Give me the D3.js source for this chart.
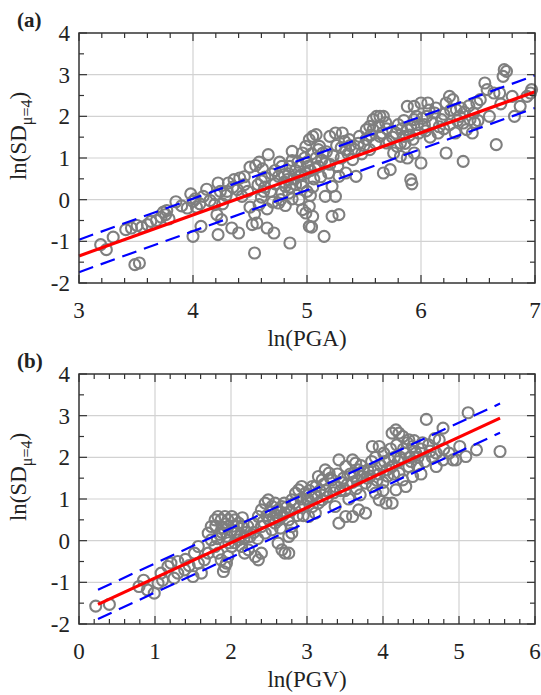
<!DOCTYPE html>
<html>
<head>
<meta charset="utf-8">
<script src="https://cdn.jsdelivr.net/npm/d3@7"></script>
<style>
  body { margin: 0; background: #fff; }
  svg text { font-family: "Liberation Serif", "DejaVu Serif", serif; fill: #222; }
</style>
</head>
<body>
<script>
// panel (a): ln(PGA) vs ln(SD)
var pointsA = [
  [3.19,-1.08],[3.24,-1.2],[3.49,-1.56],[3.53,-1.52],
  [3.41,-0.72],[3.46,-0.68],[3.51,-0.62],[3.55,-0.66],
  [3.63,-0.52],[3.68,-0.5],[3.72,-0.42],[3.76,-0.36],[3.79,-0.46],[3.77,-0.26],[3.74,-0.3],
  [3.98,0.14],[4.0,-0.04],[4.02,0.02],[4.06,-0.1],[4.09,0.08],[4.03,-0.18],
  [4.0,-0.88],[4.07,-0.64],
  [4.15,-0.02],[4.2,0.12],[4.22,0.4],[4.19,-0.12],[4.26,-0.1],[4.29,0.1],[4.24,0.2],
  [4.21,-0.36],[4.25,-0.48],[4.22,-0.84],[4.34,-0.68],[4.4,-0.8],
  [4.31,0.4],[4.36,0.48],[4.41,0.52],[4.45,0.36],[4.39,0.24],[4.35,0.3],[4.43,0.08],
  [4.5,0.78],[4.55,0.82],[4.58,0.9],[4.61,0.74],
  [4.5,-0.18],[4.54,-0.34],[4.52,-0.6],[4.56,-0.56],[4.58,-0.12],[4.6,0.06],[4.62,0.2],
  [4.54,-1.28],
  [4.66,1.08],[4.63,0.54],[4.69,0.62],[4.72,0.38],[4.63,0.3],[4.57,0.36],
  [4.65,-0.68],[4.71,-0.8],[4.65,-0.22],[4.7,-0.06],
  [4.75,0.56],[4.78,0.8],[4.81,0.32],[4.84,0.62],[4.87,0.94],[4.87,1.16],[4.84,0.16],[4.78,0.16],
  [4.75,-0.08],[4.81,-0.14],[4.87,0.02],[4.8,0.42],[4.83,0.48],[4.9,0.7],[4.9,0.36],[4.93,0.56],
  [4.85,-1.04],
  [4.94,0.8],[4.96,1.12],[4.99,1.28],[5.02,1.44],[5.05,1.52],[5.08,1.56],[4.99,0.64],[4.96,0.32],
  [4.93,0.0],[4.96,-0.24],[4.99,-0.32],[5.02,-0.16],[5.05,-0.4],[5.02,-0.64],[5.04,-0.66],[5.15,-0.88],
  [5.0,0.9],[5.03,0.7],[5.06,0.5],[5.0,0.2],[5.03,0.1],[5.08,1.0],[5.1,0.8],
  [5.11,1.28],[5.14,1.12],[5.16,0.88],[5.19,0.64],[5.22,0.32],[5.25,0.08],[5.16,0.08],[5.22,-0.4],[5.28,-0.36],
  [5.2,1.52],[5.25,1.6],[5.31,1.6],[5.37,1.44],[5.34,1.2],[5.4,0.96],[5.43,0.56],[5.34,0.64],
  [5.28,0.56],[5.3,1.0],[5.26,1.3],[5.36,1.1],
  [5.46,1.52],[5.52,1.68],[5.55,1.76],[5.58,1.92],[5.61,2.0],[5.64,2.0],[5.67,2.0],[5.58,1.68],
  [5.64,1.52],[5.7,1.36],[5.67,0.64],[5.73,0.72],[5.76,1.12],[5.79,1.28],[5.82,1.36],[5.85,1.52],
  [5.88,1.68],[5.91,1.76],[5.94,1.92],[5.88,2.24],[5.94,2.24],[6.0,2.32],[6.06,2.32],[6.12,2.08],
  [6.18,1.92],[5.94,1.12],[6.0,0.88],[5.91,0.48],[5.92,0.38],[5.88,1.0],[5.82,1.04],[5.5,1.3],
  [5.55,1.2],[5.7,1.7],[5.75,1.5],[5.8,1.8],[5.85,1.9],[5.98,1.6],[6.03,1.8],[6.08,1.5],[6.05,2.0],[5.96,2.0],
  [6.22,1.12],[6.37,0.92],
  [6.22,2.32],[6.25,2.48],[6.28,2.4],[6.31,2.16],[6.34,2.0],[6.37,1.84],[6.4,1.68],[6.43,1.92],
  [6.46,2.08],[6.49,2.32],[6.52,2.4],[6.56,2.8],[6.58,2.64],[6.64,2.56],[6.66,1.32],[6.69,2.56],
  [6.72,2.96],[6.73,3.12],[6.75,3.08],[6.8,2.48],[6.82,2.0],[6.87,2.24],[6.93,2.48],[6.97,2.64],
  [6.96,2.56],[6.25,1.8],[6.3,1.6],[6.45,1.6],[6.5,1.9],[6.15,1.6],[6.2,1.7],[6.35,2.2],[6.6,2.0],[6.7,2.3],
  [4.72,0.7],[4.76,0.9],[4.8,0.6],[4.85,0.8],[4.88,0.5],[4.92,0.9],[4.95,0.6],[4.98,1.0],
  [5.01,0.8],[5.04,1.1],[5.07,0.75],[5.1,1.2],[5.13,0.95],[5.17,1.15],[5.2,0.85],[5.23,1.05],
  [5.27,0.8],[5.3,1.25],[5.33,1.4],[5.38,1.3],[5.42,1.2],[5.45,1.35],[5.48,1.1],[5.52,1.45],
  [5.56,1.55],[5.6,1.35],[5.63,1.75],[5.66,1.6],[5.69,1.85],[5.72,1.4],[5.78,1.6],[5.83,1.7],
  [5.86,1.35],[5.9,1.55],[5.93,1.45],[5.97,1.8],[6.01,1.95],[6.04,1.65],[6.07,2.15],[6.1,1.85],
  [6.13,2.2],[6.16,1.75],[6.2,2.05],[6.26,2.15],[6.32,1.9],[6.38,2.1],[6.42,2.25],[6.47,1.85],
  [4.6,0.45],[4.68,0.2],[4.77,0.0],[4.85,0.3],[4.95,0.4],[5.05,0.3],[5.12,0.55],[4.45,0.55],
  [4.48,0.2],[4.3,0.2],[4.12,0.25],[3.9,-0.15],[3.85,-0.05],[3.95,-0.2],[3.3,-0.9],[3.6,-0.6]
];
// fitted line (x ends, y ends) and +/- band
var fitAx = [3, 7], fitAy = [-1.35, 2.59], bandA = 0.39;

// panel (b): ln(PGV) vs ln(SD)
var pointsB = [
  [0.22,-1.57],[0.4,-1.53],
  [0.79,-1.1],[0.9,-1.18],[0.99,-1.26],[1.04,-1.02],[1.08,-0.78],[1.17,-0.62],[1.21,-0.54],[1.3,-0.78],
  [1.39,-0.7],[1.5,-0.86],[1.57,-0.54],[1.61,-0.78],[1.65,-0.46],[1.52,-0.3],[1.57,-0.14],[1.25,-0.9],
  [1.45,-0.6],[1.7,-0.3],
  [1.70,0.18],[1.74,0.34],[1.79,0.5],[1.83,0.58],[1.87,0.5],[1.92,0.58],[1.96,0.5],[2.01,0.58],
  [2.05,0.5],[2.1,0.42],[2.14,0.34],[1.74,0.02],[1.79,-0.14],[1.83,-0.3],[1.87,-0.46],[1.92,-0.62],
  [1.9,-0.74],[1.94,-0.54],[1.96,-0.38],[2.01,-0.14],[2.05,0.18],[2.1,0.02],[2.14,-0.14],[2.18,-0.3],
  [2.23,-0.22],[2.32,-0.38],[2.36,-0.46],[2.4,-0.3],
  [1.9,0.3],[1.95,0.1],[2.0,0.25],[1.85,0.15],[2.05,-0.05],[2.2,0.2],[2.25,0.1],[2.15,0.55],
  [2.36,0.58],[2.4,0.74],[2.45,0.9],[2.49,0.98],[2.54,0.82],[2.58,0.9],[2.62,0.74],[2.67,0.82],
  [2.71,0.66],[2.76,0.5],[2.8,0.34],[2.8,0.18],[2.76,0.1],[2.62,-0.06],[2.67,-0.22],[2.71,-0.3],
  [2.76,-0.3],[2.54,0.26],[2.58,0.42],[2.4,0.34],[2.45,0.18],
  [2.5,0.5],[2.6,0.6],[2.65,0.3],[2.3,0.4],[2.7,0.9],
  [2.8,0.98],[2.85,1.14],[2.89,1.22],[2.93,1.3],[2.98,1.14],[3.02,0.98],[3.07,0.82],[3.11,0.66],
  [3.02,0.58],[3.15,1.54],[3.2,1.46],[3.24,1.7],[3.29,1.62],[3.33,1.46],[3.37,1.3],[3.2,0.98],[3.07,1.3],
  [2.9,0.8],[3.0,1.0],[3.1,1.1],[3.15,0.9],[3.25,1.2],[2.95,0.6],
  [3.37,0.82],[3.42,0.42],[3.51,0.58],[3.6,0.58],[3.68,0.74],[3.77,0.66],[3.42,1.94],[3.51,1.78],
  [3.6,1.94],[3.64,1.86],[3.68,1.7],[3.73,1.54],[3.77,1.38],[3.86,1.3],[3.9,1.14],[3.95,0.98],
  [4.04,0.9],[4.12,0.9],[3.86,2.26],[3.95,2.26],[4.01,2.1],[4.08,1.94],[4.12,1.78],[4.21,1.62],
  [4.26,1.46],[4.17,1.22],[4.3,1.3],[4.12,2.58],[4.17,2.66],[4.21,2.58],[4.26,2.5],[4.34,2.42],
  [4.39,2.26],[4.43,2.1],[4.3,2.1],[4.34,1.78],[4.39,1.54],
  [3.5,1.2],[3.55,1.0],[3.6,1.4],[3.7,1.1],[3.8,1.7],[3.85,1.9],[3.45,1.4],[3.65,1.25],[3.95,1.6],
  [4.0,1.4],[4.05,1.7],[4.15,2.0],[4.2,1.9],[4.35,2.0],[3.9,2.0],[4.0,1.2],
  [4.57,2.91],[4.79,2.7],[4.74,2.42],[4.7,2.1],[4.7,1.78],[4.79,1.94],[4.87,2.1],[4.92,1.94],
  [4.96,1.94],[5.01,2.26],[5.09,2.02],[5.12,3.07],[5.23,2.18],[5.54,2.14],
  [4.5,2.2],[4.55,1.9],[4.6,2.3],[4.65,2.0],[4.45,1.8],[4.5,1.6],[4.8,2.2],
  [2.3,0.2],[2.35,0.05],[2.42,0.45],[2.47,0.6],[2.52,0.7],[2.56,0.55],[2.63,0.5],[2.68,0.6],
  [2.73,0.8],[2.78,0.7],[2.83,0.9],[2.87,0.6],[2.92,1.0],[2.97,0.85],[3.03,1.2],[3.06,1.05],
  [3.12,1.3],[3.17,1.2],[3.22,1.35],[3.27,1.05],[3.31,1.5],[3.35,1.15],[3.4,1.6],[3.44,1.2],
  [3.48,1.5],[3.53,1.35],[3.57,1.6],[3.62,1.55],[3.66,1.45],[3.71,1.8],[3.75,1.65],[3.79,1.5],
  [3.83,1.55],[3.88,1.7],[3.92,1.45],[3.97,1.8],[4.02,1.9],[4.06,1.55],[4.1,2.2],[4.14,1.6],
  [4.18,2.3],[4.23,2.0],[4.27,2.2],[4.32,2.35],[4.37,1.9],[4.41,2.4],[4.46,2.0],[4.52,2.35],
  [4.62,2.15],[4.68,2.45],[1.8,0.35],[1.82,0.05],[1.88,0.2],[1.93,0.4],[1.97,-0.05],[2.03,0.35],
  [2.08,0.2],[2.12,0.1],[2.17,0.05],[2.22,0.35],[1.3,-0.5],[1.4,-0.45],[1.1,-0.95],[0.85,-0.95]
];
var fitBx = [0.25, 5.54], fitBy = [-1.53, 2.94], bandB = 0.35;

var yTicks = [-2, -1, 0, 1, 2, 3, 4];
var xTicksA = [3, 4, 5, 6, 7];
var xTicksB = [0, 1, 2, 3, 4, 5, 6];

var W = 541, H = 695;
var svg = d3.select("body").append("svg")
    .attr("width", W)
    .attr("height", H);

function panel(cfg) {
  var width = 456, height = 250;
  var g = svg.append("g")
      .attr("transform", "translate(" + cfg.left + "," + cfg.top + ")");

  var x = d3.scaleLinear().domain(cfg.xDomain).range([0, width]),
      y = d3.scaleLinear().domain([-2, 4]).range([height, 0]);

  // grid
  g.append("g").selectAll("line")
      .data(cfg.xTicks.slice(1, -1))
    .enter().append("line")
      .attr("x1", x).attr("x2", x)
      .attr("y1", 0).attr("y2", height)
      .attr("stroke", "#d2d2d2").attr("stroke-width", 1.2);
  g.append("g").selectAll("line")
      .data(yTicks.slice(1, -1))
    .enter().append("line")
      .attr("y1", y).attr("y2", y)
      .attr("x1", 0).attr("x2", width)
      .attr("stroke", "#d2d2d2").attr("stroke-width", 1.2);

  // points
  g.append("g").selectAll("circle")
      .data(cfg.points)
    .enter().append("circle")
      .attr("cx", function(d) { return x(d[0]); })
      .attr("cy", function(d) { return y(d[1]); })
      .attr("r", 5.5)
      .attr("fill", "none")
      .attr("stroke", "#7f7f7f")
      .attr("stroke-width", 2.1);

  // fit + band
  var line = d3.line()
      .x(function(d) { return x(d[0]); })
      .y(function(d) { return y(d[1]); });
  [cfg.band, -cfg.band].forEach(function(off) {
    g.append("path")
        .datum(cfg.fitX.map(function(v, i) { return [v, cfg.fitY[i] + off]; }))
        .attr("d", line)
        .attr("fill", "none")
        .attr("stroke", "#0000ff")
        .attr("stroke-width", 2.2)
        .attr("stroke-dasharray", "15,8");
  });
  g.append("path")
      .datum(cfg.fitX.map(function(v, i) { return [v, cfg.fitY[i]]; }))
      .attr("d", line)
      .attr("fill", "none")
      .attr("stroke", "#ff0000")
      .attr("stroke-width", 3.2);

  // inward ticks on all four sides
  var xMinor = d3.range(cfg.xDomain[0], cfg.xDomain[1] + 1e-9, 0.2),
      yMinor = d3.range(-2, 4 + 1e-9, 0.5);
  function tickLen(v, step) { return Math.abs(v / step - Math.round(v / step)) < 1e-6 ? 8 : 5; }
  var tk = g.append("g").attr("stroke", "#333").attr("stroke-width", 1.2);
  xMinor.forEach(function(v) {
    var L = tickLen(v, 1);
    tk.append("line").attr("x1", x(v)).attr("x2", x(v)).attr("y1", height).attr("y2", height - L);
    tk.append("line").attr("x1", x(v)).attr("x2", x(v)).attr("y1", 0).attr("y2", L);
  });
  yMinor.forEach(function(v) {
    var L = tickLen(v, 1);
    tk.append("line").attr("y1", y(v)).attr("y2", y(v)).attr("x1", 0).attr("x2", L);
    tk.append("line").attr("y1", y(v)).attr("y2", y(v)).attr("x1", width).attr("x2", width - L);
  });

  g.append("rect")
      .attr("width", width).attr("height", height)
      .attr("fill", "none")
      .attr("stroke", "#333")
      .attr("stroke-width", 1.5);

  // tick labels
  g.append("g").selectAll("text")
      .data(cfg.xTicks)
    .enter().append("text")
      .attr("x", x).attr("y", height + 35)
      .attr("text-anchor", "middle")
      .style("font-size", "23px")
      .text(String);
  g.append("g").selectAll("text")
      .data(yTicks)
    .enter().append("text")
      .attr("x", -9).attr("y", y)
      .attr("dy", ".35em")
      .attr("text-anchor", "end")
      .style("font-size", "23px")
      .text(String);

  g.append("text")
      .attr("x", width / 2).attr("y", height + 63)
      .attr("text-anchor", "middle")
      .style("font-size", "23px")
      .text(cfg.xLabel);

  var yl = g.append("text")
      .attr("transform", "translate(" + (-53) + "," + (height / 2 - 22) + ") rotate(-90)")
      .attr("text-anchor", "middle")
      .style("font-size", "23px");
  yl.append("tspan").text("ln(SD");
  yl.append("tspan").attr("dy", 6).style("font-size", "16px").text("\u03bc=4");
  yl.append("tspan").attr("dy", -6).text(")");

  svg.append("text")
      .attr("x", 17).attr("y", cfg.top - 6)
      .style("font-size", "21px")
      .style("font-weight", "bold")
      .text(cfg.tag);
}

panel({ left: 79, top: 33, xDomain: [3, 7], xTicks: xTicksA, points: pointsA,
        fitX: fitAx, fitY: fitAy, band: bandA, xLabel: "ln(PGA)", tag: "(a)" });
panel({ left: 79, top: 374, xDomain: [0, 6], xTicks: xTicksB, points: pointsB,
        fitX: fitBx, fitY: fitBy, band: bandB, xLabel: "ln(PGV)", tag: "(b)" });
</script>
</body>
</html>
